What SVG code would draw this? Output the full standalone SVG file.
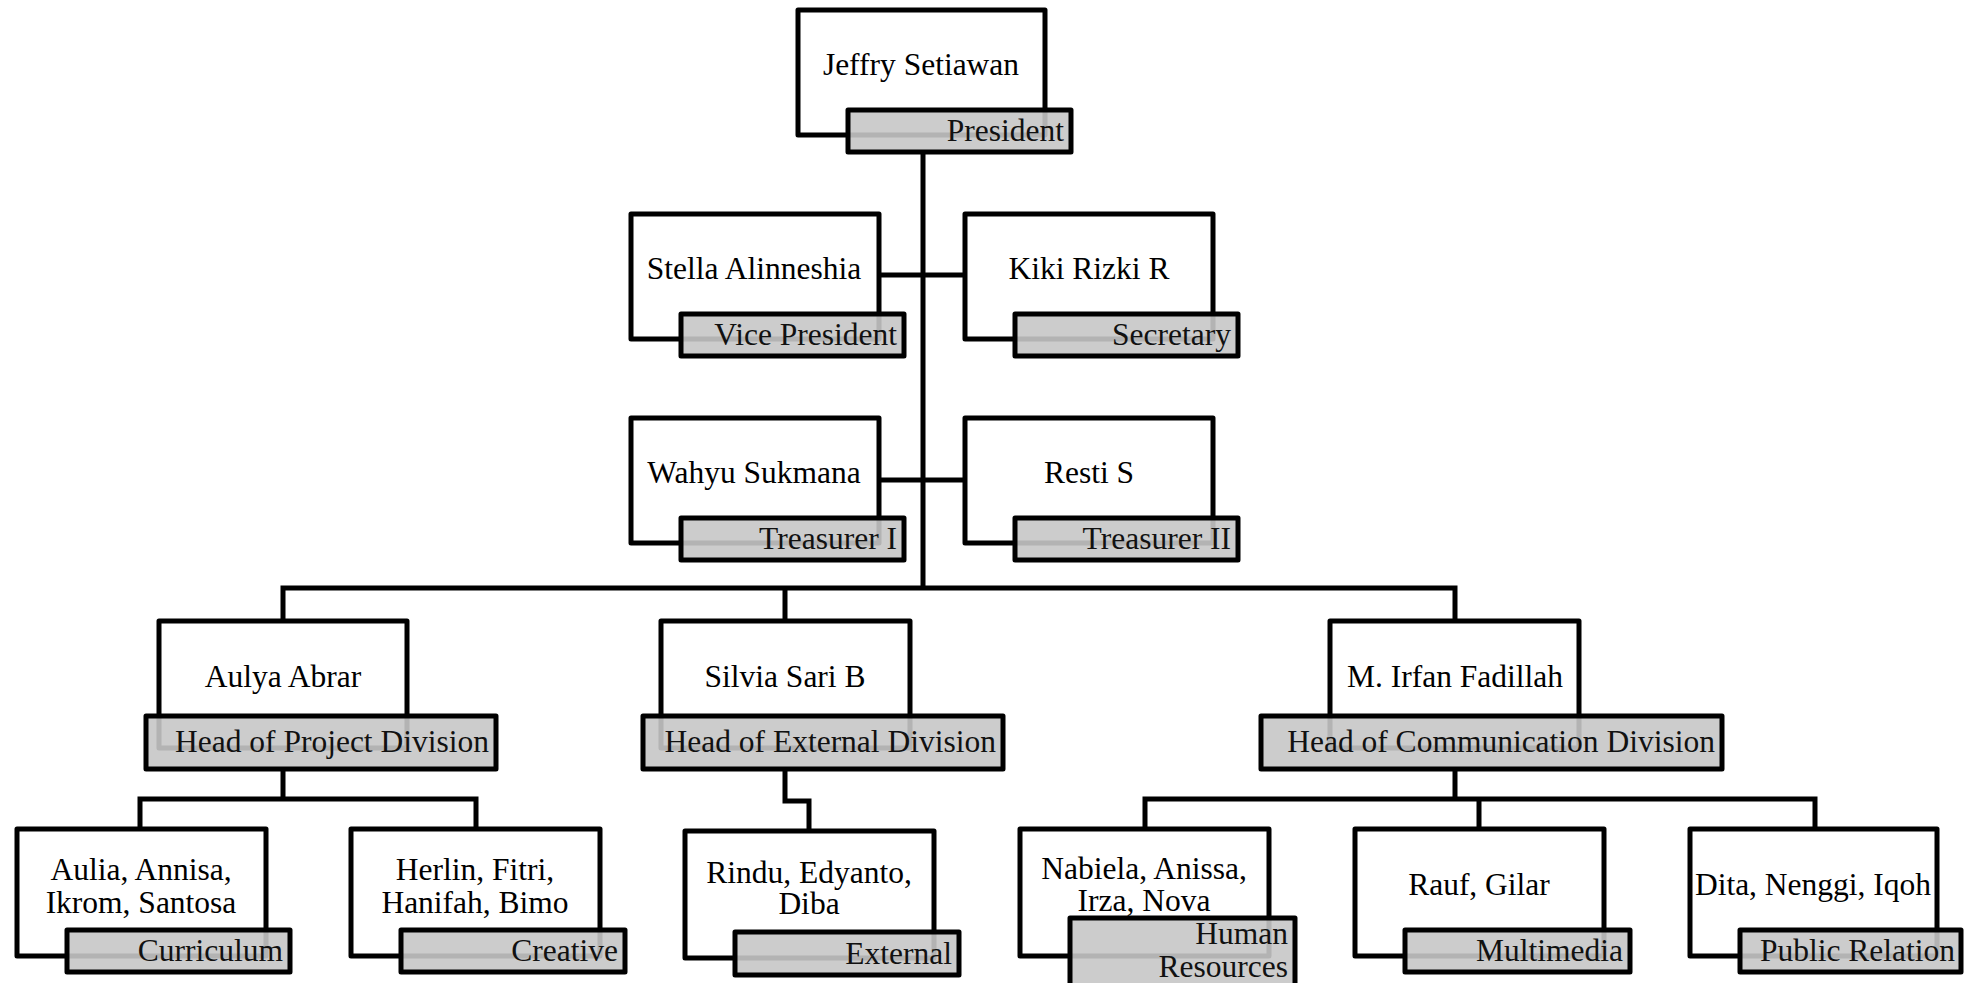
<svg xmlns="http://www.w3.org/2000/svg" width="1975" height="983" viewBox="0 0 1975 983">
<style>
.box{fill:#fff;stroke:#000;stroke-width:5;stroke-linejoin:round}
.lab{fill:rgb(198,198,198);fill-opacity:0.9;stroke:#000;stroke-width:5;stroke-linejoin:round}
.ln{fill:none;stroke:#000;stroke-width:5;stroke-linejoin:miter}
text{font-family:"Liberation Serif","Times New Roman",serif;font-size:31.5px;fill:#000}
.n{text-anchor:middle}
.r{text-anchor:end;fill:#111}
</style>
<rect width="1975" height="983" fill="#fff"/>
<g id="connectors">
<path class="ln" d="M923 152V588"/>
<path class="ln" d="M879 275H964"/>
<path class="ln" d="M879 480H964"/>
<path class="ln" d="M283 620V588H1455V620M785 588V620"/>
<path class="ln" d="M283 770V799M140 829V799H476V829"/>
<path class="ln" d="M785 770V801H809V831"/>
<path class="ln" d="M1455 770V799M1145 829V799H1815V829M1479 799V829"/>
</g>
<g id="president">
<rect class="box" x="798" y="10" width="247" height="125"/>
<text class="n" x="921" y="75">Jeffry Setiawan</text>
<rect class="lab" x="848" y="110" width="223" height="42"/>
<text class="r" x="1064" y="141">President</text>
</g>
<g id="vice-president">
<rect class="box" x="631" y="214" width="248" height="125"/>
<text class="n" x="754" y="279">Stella Alinneshia</text>
<rect class="lab" x="681" y="314" width="223" height="42"/>
<text class="r" x="897" y="345">Vice President</text>
</g>
<g id="secretary">
<rect class="box" x="965" y="214" width="248" height="125"/>
<text class="n" x="1089" y="279">Kiki Rizki R</text>
<rect class="lab" x="1015" y="314" width="223" height="42"/>
<text class="r" x="1231" y="345">Secretary</text>
</g>
<g id="treasurer-1">
<rect class="box" x="631" y="418" width="248" height="125"/>
<text class="n" x="754" y="483">Wahyu Sukmana</text>
<rect class="lab" x="681" y="518" width="223" height="42"/>
<text class="r" x="897" y="549">Treasurer I</text>
</g>
<g id="treasurer-2">
<rect class="box" x="965" y="418" width="248" height="125"/>
<text class="n" x="1089" y="483">Resti S</text>
<rect class="lab" x="1015" y="518" width="223" height="42"/>
<text class="r" x="1231" y="549">Treasurer II</text>
</g>
<g id="project-division">
<rect class="box" x="159" y="621" width="248" height="127"/>
<text class="n" x="283" y="687">Aulya Abrar</text>
<rect class="lab" x="146" y="716" width="350" height="53"/>
<text class="r" x="489" y="752">Head of Project Division</text>
</g>
<g id="external-division">
<rect class="box" x="661" y="621" width="249" height="127"/>
<text class="n" x="785" y="687">Silvia Sari B</text>
<rect class="lab" x="643" y="716" width="360" height="53"/>
<text class="r" x="996" y="752">Head of External Division</text>
</g>
<g id="communication-division">
<rect class="box" x="1330" y="621" width="249" height="127"/>
<text class="n" x="1455" y="687">M. Irfan Fadillah</text>
<rect class="lab" x="1261" y="716" width="461" height="53"/>
<text class="r" x="1715" y="752">Head of Communication Division</text>
</g>
<g id="curriculum">
<rect class="box" x="17" y="829" width="249" height="127"/>
<text class="n" x="141" y="880">Aulia, Annisa,</text>
<text class="n" x="141" y="913">Ikrom, Santosa</text>
<rect class="lab" x="67" y="930" width="223" height="42"/>
<text class="r" x="283" y="961">Curriculum</text>
</g>
<g id="creative">
<rect class="box" x="351" y="829" width="249" height="127"/>
<text class="n" x="475" y="880">Herlin, Fitri,</text>
<text class="n" x="475" y="913">Hanifah, Bimo</text>
<rect class="lab" x="401" y="930" width="224" height="42"/>
<text class="r" x="618" y="961">Creative</text>
</g>
<g id="external">
<rect class="box" x="685" y="831" width="249" height="127"/>
<text class="n" x="809" y="883">Rindu, Edyanto,</text>
<text class="n" x="809" y="914">Diba</text>
<rect class="lab" x="735" y="932" width="224" height="43"/>
<text class="r" x="952" y="964">External</text>
</g>
<g id="human-resources">
<rect class="box" x="1020" y="829" width="249" height="127"/>
<text class="n" x="1144" y="879">Nabiela, Anissa,</text>
<text class="n" x="1144" y="911">Irza, Nova</text>
<rect class="lab" x="1070" y="918" width="225" height="70"/>
<text class="r" x="1288" y="944">Human</text>
<text class="r" x="1288" y="977">Resources</text>
</g>
<g id="multimedia">
<rect class="box" x="1355" y="829" width="249" height="127"/>
<text class="n" x="1479" y="895">Rauf, Gilar</text>
<rect class="lab" x="1405" y="930" width="225" height="42"/>
<text class="r" x="1623" y="961">Multimedia</text>
</g>
<g id="public-relation">
<rect class="box" x="1690" y="829" width="247" height="127"/>
<text class="n" x="1813" y="895">Dita, Nenggi, Iqoh</text>
<rect class="lab" x="1740" y="930" width="221" height="42"/>
<text class="r" x="1955" y="961">Public Relation</text>
</g>
</svg>
